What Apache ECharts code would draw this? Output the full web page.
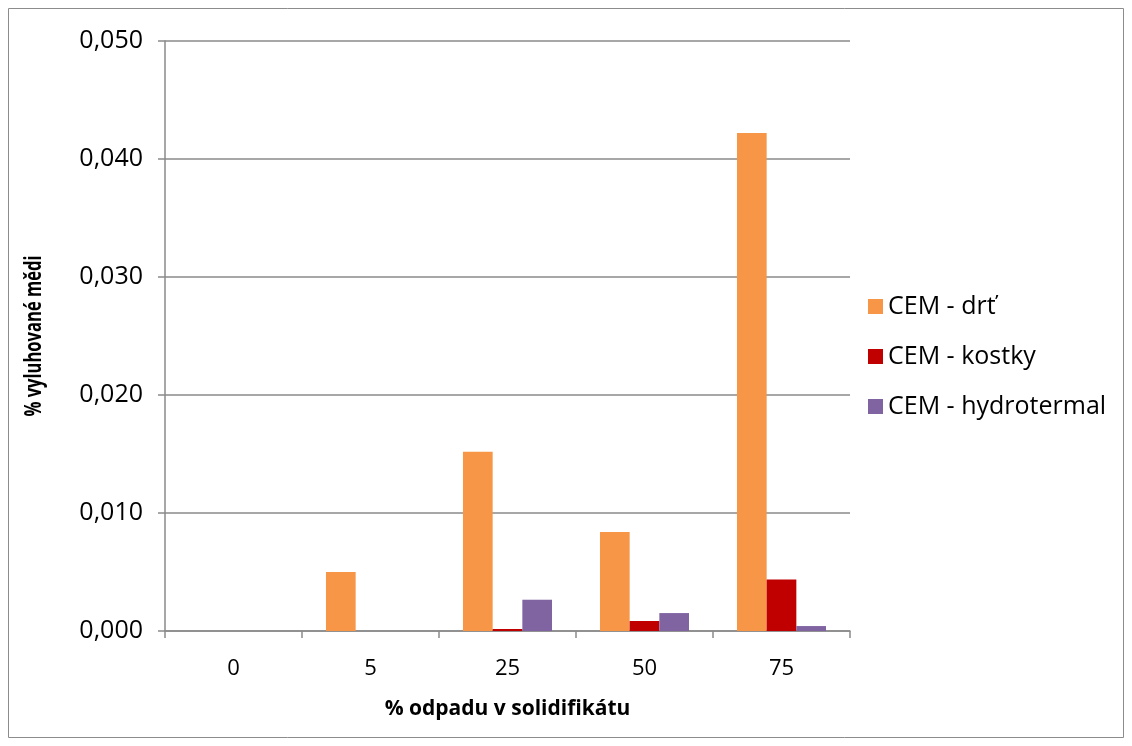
<!DOCTYPE html>
<html>
<head>
<meta charset="utf-8">
<script src="https://cdn.jsdelivr.net/npm/echarts@6/dist/echarts.min.js"></script>
<style>
  html, body { margin: 0; padding: 0; background: #ffffff; }
  #chart { width: 1132px; height: 746px; }
</style>
</head>
<body>
<div id="chart"></div>
<script>
// Podíl odpadu v solidifikátu (%)
const categories = ['0', '5', '25', '50', '75'];
// Vyluhovaná měď (%) pro jednotlivé způsoby úpravy
const cemDrt = [0, 0.0050, 0.0152, 0.0084, 0.0422];
const cemKostky = [0, 0, 0.00017, 0.00085, 0.00437];
const cemHydrotermal = [0, 0, 0.00265, 0.00152, 0.00042];
// Rozsah osy Y
const yMin = 0, yMax = 0.05, yStep = 0.01;

const FONT = '"Open Sans", "Noto Sans", sans-serif';
const AXIS_GREY = '#8a8a8a';

const chart = echarts.init(document.getElementById('chart'), null, { renderer: 'canvas' });

chart.setOption({
  animation: false,
  backgroundColor: '#ffffff',
  textStyle: { fontFamily: FONT },
  graphic: [
    {
      // rámeček grafu
      type: 'rect',
      shape: { x: 8.5, y: 8.5, width: 1115, height: 729 },
      style: { fill: 'none', stroke: '#8c8c8c', lineWidth: 1 },
      silent: true
    },
    {
      // název osy Y (svislý, zúžený)
      type: 'text',
      x: 34,
      y: 336,
      rotation: Math.PI / 2,
      scaleX: 0.72,
      scaleY: 1,
      style: {
        text: '% vyluhované mědi',
        font: 'bold 23px "Open Sans", "Noto Sans", sans-serif',
        fill: '#000000',
        align: 'center',
        verticalAlign: 'middle'
      },
      silent: true
    }
  ],
  grid: { left: 165, right: 282, top: 41, bottom: 115, containLabel: false },
  legend: {
    orient: 'vertical',
    left: 863,
    top: 286,
    icon: 'rect',
    itemWidth: 15,
    itemHeight: 15,
    itemGap: 19,
    textStyle: { fontFamily: FONT, fontSize: 25, color: '#000000', lineHeight: 31 },
    data: ['CEM - drť', 'CEM - kostky', 'CEM - hydrotermal']
  },
  xAxis: {
    type: 'category',
    data: categories,
    name: '% odpadu v solidifikátu',
    nameLocation: 'middle',
    nameGap: 68,
    nameTextStyle: { fontFamily: FONT, fontSize: 21, fontWeight: 'bold', color: '#000000' },
    axisLine: { lineStyle: { color: AXIS_GREY, width: 1.5 } },
    axisTick: { show: true, length: 7, alignWithLabel: false, lineStyle: { color: AXIS_GREY, width: 1.5 } },
    axisLabel: { fontFamily: FONT, fontSize: 22, color: '#000000', margin: 27 },
    splitLine: { show: false }
  },
  yAxis: {
    type: 'value',
    min: yMin,
    max: yMax,
    interval: yStep,
    axisLine: { show: true, lineStyle: { color: AXIS_GREY, width: 1.5 } },
    axisTick: { show: true, length: 7, lineStyle: { color: AXIS_GREY, width: 1.5 } },
    axisLabel: {
      fontFamily: FONT, fontSize: 25, color: '#000000', margin: 22,
      formatter: v => v.toFixed(3).replace('.', ',')
    },
    splitLine: { show: true, lineStyle: { color: AXIS_GREY, width: 1.5 } }
  },
  series: [
    { name: 'CEM - drť', type: 'bar', data: cemDrt, itemStyle: { color: '#F79646' }, barGap: '0%', barCategoryGap: '35%' },
    { name: 'CEM - kostky', type: 'bar', data: cemKostky, itemStyle: { color: '#C00000' } },
    { name: 'CEM - hydrotermal', type: 'bar', data: cemHydrotermal, itemStyle: { color: '#8064A2' } }
  ]
});
</script>
</body>
</html>
